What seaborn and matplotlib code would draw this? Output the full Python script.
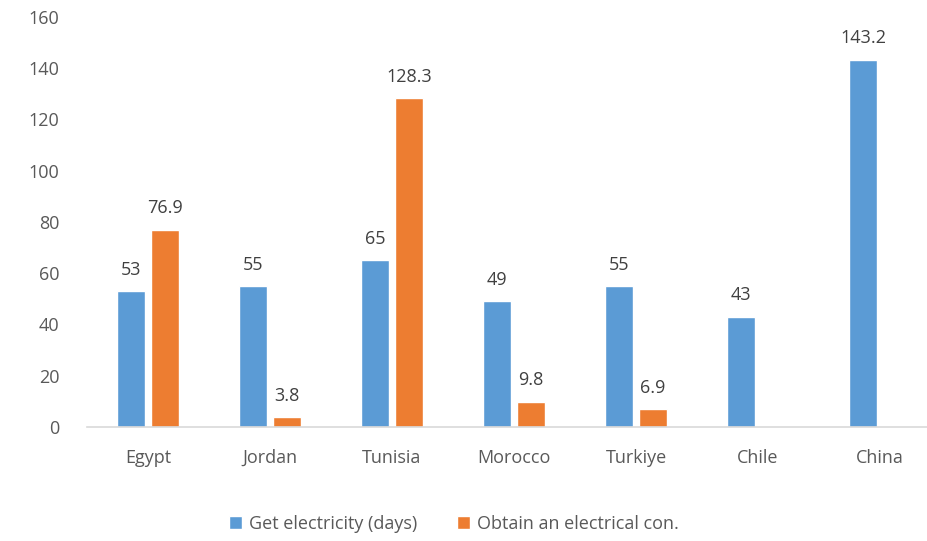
import pandas as pd
import numpy as np
import matplotlib.pyplot as plt
import seaborn as sns

# data
countries = ["Egypt", "Jordan", "Tunisia", "Morocco", "Turkiye", "Chile", "China"]
get_electricity = [53, 55, 65, 49, 55, 43, 143.2]
obtain_connection = [76.9, 3.8, 128.3, 9.8, 6.9, np.nan, np.nan]
series_names = ["Get electricity (days)", "Obtain an electrical con."]
colors = ["#5B9BD5", "#ED7D31"]
yticks = [0, 20, 40, 60, 80, 100, 120, 140, 160]

df = pd.DataFrame({
    "Country": countries * 2,
    "Series": [series_names[0]] * len(countries) + [series_names[1]] * len(countries),
    "Value": get_electricity + obtain_connection,
})

sns.set_theme(style="white")
plt.rcParams["font.family"] = ["Open Sans", "DejaVu Sans"]

fig = plt.figure(figsize=(9.27, 5.41), dpi=100)
ax = fig.add_axes([0.0939, 0.2107, 0.9213, 0.758])

sns.barplot(data=df, x="Country", y="Value", hue="Series", order=countries,
            hue_order=series_names, palette=colors, width=0.55, gap=0.16,
            saturation=1, ax=ax, legend=True)

for cont in ax.containers:
    ax.bar_label(cont, fmt=lambda v: f"{v:g}", padding=9, fontsize=13, color="#404040")

ax.set_xlim(-0.5, len(countries) - 0.5)
ax.set_ylim(0, 160)
ax.set_yticks(yticks)
ax.set_xlabel("")
ax.set_ylabel("")
sns.despine(ax=ax, left=True)
ax.spines["bottom"].set_color("#D9D9D9")
ax.spines["bottom"].set_linewidth(1.2)
ax.tick_params(axis="both", length=0, labelsize=13, labelcolor="#595959")
ax.tick_params(axis="y", pad=20)
ax.tick_params(axis="x", pad=16)

handles, labels = ax.get_legend_handles_labels()
ax.get_legend().remove()
fig.legend(handles, labels, loc="lower center", bbox_to_anchor=(0.49, -0.015), ncol=2,
           frameon=False, fontsize=13, handlelength=0.7, handleheight=0.7,
           handletextpad=0.4, columnspacing=2.2, labelcolor="#595959")

fig.savefig("out.png", dpi=100)
